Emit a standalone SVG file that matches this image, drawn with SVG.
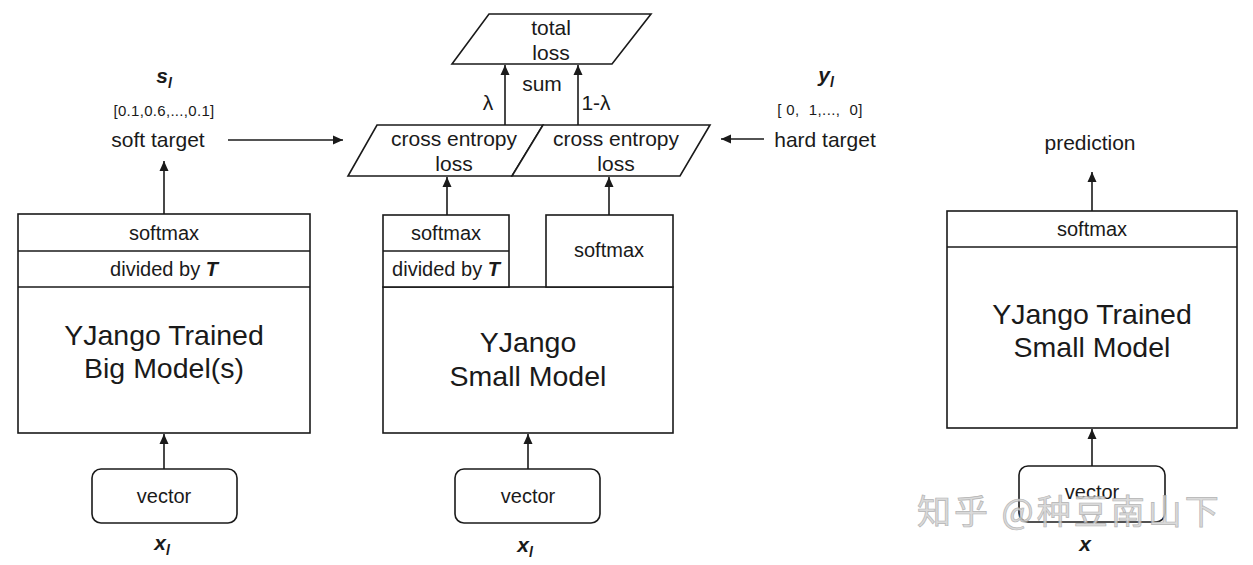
<svg xmlns="http://www.w3.org/2000/svg" width="1253" height="565" viewBox="0 0 1253 565">
<defs>
<marker id="ah" viewBox="0 0 10 10" refX="10" refY="5" markerWidth="10" markerHeight="10" markerUnits="userSpaceOnUse" orient="auto">
<path d="M0,0.5 L10,5 L0,9.5 Z" fill="#1a1a1a"/>
</marker>
<style>
.b{fill:#fff;stroke:#1a1a1a;stroke-width:1.6}
.t{font-family:"Liberation Sans",Arial,sans-serif;font-size:20px;fill:#1a1a1a;text-anchor:middle;dominant-baseline:central}
.m{font-size:21px}
.big{font-size:28.5px}
.sm{font-size:15px}
.v{font-family:"Liberation Sans",Arial,sans-serif;font-size:21px;font-weight:bold;font-style:italic;fill:#1a1a1a;text-anchor:middle}
.c{stroke:#1a1a1a;stroke-width:1.6;fill:none;marker-end:url(#ah)}
.wm{font-family:"Noto Sans CJK SC","Liberation Sans",sans-serif;font-size:34px;letter-spacing:3px;fill:#d4d4d4;stroke:#a8a8a8;stroke-width:0.7;opacity:0.85}
</style>
</defs>
<rect width="1253" height="565" fill="#fff"/>

<g id="connectors">
<line class="c" x1="164" y1="214" x2="164" y2="161"/>
<line class="c" x1="228" y1="140" x2="343" y2="140"/>
<line class="c" x1="164" y1="469" x2="164" y2="434"/>
<line class="c" x1="447" y1="215" x2="447" y2="177"/>
<line class="c" x1="609" y1="215" x2="609" y2="177"/>
<line class="c" x1="505" y1="125" x2="505" y2="65"/>
<line class="c" x1="578" y1="125" x2="578" y2="65"/>
<line class="c" x1="764" y1="139" x2="721" y2="139"/>
<line class="c" x1="528" y1="469" x2="528" y2="434"/>
<line class="c" x1="1092" y1="211" x2="1092" y2="172"/>
<line class="c" x1="1092" y1="466" x2="1092" y2="429"/>
<text class="t m" x="488" y="102">λ</text>
<text class="t m" x="542" y="83">sum</text>
<text class="t m" x="596" y="102">1-λ</text>
</g>

<g id="big-model">
<rect class="b" x="18" y="214" width="292" height="219"/>
<line x1="18" y1="251" x2="310" y2="251" stroke="#1a1a1a" stroke-width="1.6"/>
<line x1="18" y1="287" x2="310" y2="287" stroke="#1a1a1a" stroke-width="1.6"/>
<text class="t" x="164" y="233">softmax</text>
<text class="t" x="164" y="269">divided by <tspan font-weight="bold" font-style="italic">T</tspan></text>
<text class="t big" x="164" y="335">YJango Trained</text>
<text class="t big" x="164" y="368">Big Model(s)</text>
</g>

<g id="soft-target">
<text class="v" x="164" y="83">s<tspan font-size="14" dy="5">l</tspan></text>
<text class="t sm" x="164" y="110" letter-spacing="0.3">[0.1,0.6,...,0.1]</text>
<text class="t m" x="158" y="139">soft target</text>
</g>

<g id="vector-left">
<rect class="b" x="92" y="469" width="145" height="54" rx="9"/>
<text class="t" x="164" y="496">vector</text>
<text class="v" x="162" y="550">x<tspan font-size="14" dy="5">l</tspan></text>
</g>

<g id="total-loss">
<polygon class="b" points="489,14 651,14 612,64 452,64"/>
<text class="t m" x="551" y="27">total</text>
<text class="t m" x="551" y="52">loss</text>
</g>

<g id="ce-left">
<polygon class="b" points="377,125 543,125 512,176 348,176"/>
<text class="t m" x="454" y="138">cross entropy</text>
<text class="t m" x="454" y="163">loss</text>
</g>

<g id="ce-right">
<polygon class="b" points="543,125 710,125 680,176 512,176"/>
<text class="t m" x="616" y="138">cross entropy</text>
<text class="t m" x="616" y="163">loss</text>
</g>

<g id="hard-target">
<text class="v" x="826" y="82">y<tspan font-size="14" dy="5">l</tspan></text>
<text class="t sm" x="820" y="109" xml:space="preserve" letter-spacing="0.4">[ 0,  1,...,  0]</text>
<text class="t m" x="825" y="139">hard target</text>
</g>

<g id="small-model">
<rect class="b" x="383" y="287" width="290" height="146"/>
<text class="t big" x="528" y="342">YJango</text>
<text class="t big" x="528" y="376">Small Model</text>
</g>

<g id="small-softmax-t">
<rect class="b" x="383" y="215" width="126" height="72"/>
<line x1="383" y1="251" x2="509" y2="251" stroke="#1a1a1a" stroke-width="1.6"/>
<text class="t" x="446" y="233">softmax</text>
<text class="t" x="446" y="269">divided by <tspan font-weight="bold" font-style="italic">T</tspan></text>
</g>

<g id="small-softmax">
<rect class="b" x="546" y="215" width="127" height="72"/>
<text class="t" x="609" y="250">softmax</text>
</g>

<g id="vector-mid">
<rect class="b" x="455" y="469" width="145" height="54" rx="9"/>
<text class="t" x="528" y="496">vector</text>
<text class="v" x="525" y="552">x<tspan font-size="14" dy="5">l</tspan></text>
</g>

<g id="trained-small-model">
<rect class="b" x="947" y="211" width="290" height="217"/>
<line x1="947" y1="247" x2="1237" y2="247" stroke="#1a1a1a" stroke-width="1.6"/>
<text class="t" x="1092" y="229">softmax</text>
<text class="t big" x="1092" y="314">YJango Trained</text>
<text class="t big" x="1092" y="347">Small Model</text>
</g>

<g id="prediction">
<text class="t m" x="1090" y="142">prediction</text>
</g>

<g id="vector-right">
<rect class="b" x="1019" y="466" width="146" height="56" rx="9"/>
<text class="t" x="1092" y="492">vector</text>
<text class="v" x="1085" y="551">x</text>
</g>

<text class="wm" x="917" y="524">知乎 @种豆南山下</text>
</svg>
